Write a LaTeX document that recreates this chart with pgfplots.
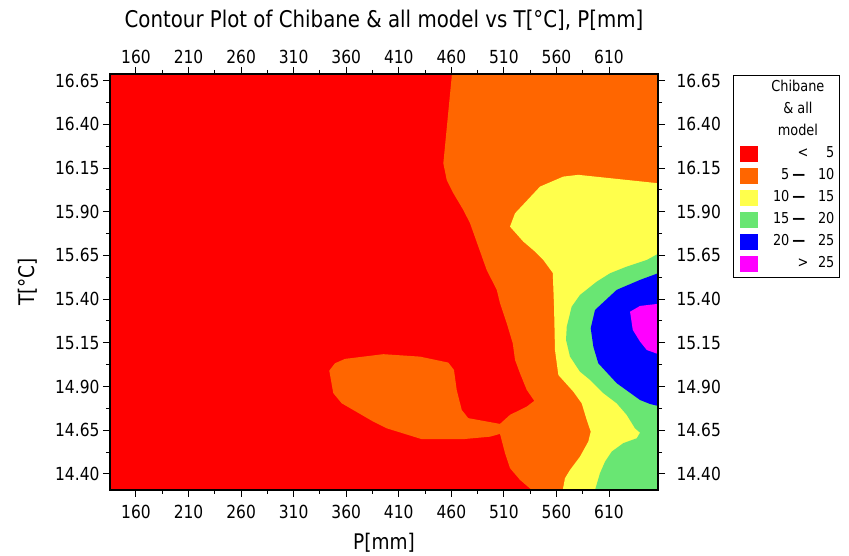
\documentclass[border=0pt]{standalone}
\usepackage{fontspec}
\setmainfont{DejaVu Sans}[FakeStretch=0.86]
\usepackage{pgfplots}
\pgfplotsset{compat=1.18}
\definecolor{cRed}{RGB}{255,0,0}
\definecolor{cOrange}{RGB}{255,102,0}
\definecolor{cYellow}{RGB}{255,255,76}
\definecolor{cGreen}{RGB}{105,230,115}
\definecolor{cBlue}{RGB}{0,0,255}
\definecolor{cMagenta}{RGB}{255,0,255}
\pgfplotsset{sq/.style={legend image code/.code={\fill[##1] (0pt,-8pt) rectangle (18pt,8pt);}, draw=none}}
\newcommand\LegR[2]{\makebox[29pt][r]{#1}\makebox[19pt][c]{\textbf{—}}\makebox[26pt][r]{#2}\hspace*{-5pt}}
\newcommand\LegS[2]{\makebox[29pt][r]{}\makebox[19pt][r]{#1}\makebox[26pt][r]{#2}\hspace*{-5pt}}
\newcommand\LegT[1]{\makebox[75pt][c]{#1}\hspace*{-5pt}}
\begin{document}
\begin{tikzpicture}
\useasboundingbox (-110pt,-66pt) rectangle (739pt,490pt);
\begin{axis}[
  at={(0pt,0pt)}, anchor=south west,
  scale only axis, width=548pt, height=416pt,
  xmin=135.3, xmax=656.6, ymin=14.308, ymax=16.688,
  axis on top,
  axis line style={line width=1.2pt},
  tick align=outside,
  xtick={160,210,260,310,360,410,460,510,560,610},
  ytick={14.40,14.65,14.90,15.15,15.40,15.65,15.90,16.15,16.40,16.65},
  minor x tick num=1, minor y tick num=1,
  major tick length=7pt, minor tick length=4pt,
  tick style={black, line width=1pt},
  tick label style={font=\fontsize{18}{21}\selectfont},
  xticklabel style={yshift=-5pt},
  /pgf/number format/assume math mode=true,
  yticklabel style={/pgf/number format/.cd, fixed, fixed zerofill, precision=2},
  xlabel={P[mm]}, ylabel={T[°C]},
  label style={font=\fontsize{21.5}{24}\selectfont},
  xlabel style={at={(axis description cs:0.5,-0.1274)}, anchor=center},
  ylabel style={at={(axis description cs:-0.1496,0.5)}, anchor=center, rotate=0},
  title={Contour Plot of Chibane \& all model vs T[°C], P[mm]},
  title style={at={(axis description cs:0.5,1.097)}, anchor=base, font=\fontsize{23}{26}\selectfont},
  legend style={at={(axis description cs:1.1369,0.9976)}, anchor=north west, draw=black, line width=0.8pt, fill=white,
    font=\fontsize{15}{18}\selectfont, row sep=6pt, inner xsep=7pt, inner ysep=5pt,
    nodes={inner xsep=2pt, inner ysep=0pt, text height=11pt, text depth=5pt}},
  legend cell align=left,
]
\addplot[fill=cRed, draw=none, forget plot] coordinates {(120,14.2) (670,14.2) (670,16.8) (120,16.8)};
\addplot[fill=cOrange, draw=none, forget plot] coordinates {
(460.6,16.80) (670,16.80) (670,14.20) (536.5,14.20) (536.5,14.308) (525.3,14.366) (515.8,14.433) (511.1,14.518) (506.3,14.629) (496.8,14.613) (471.4,14.599) (431.8,14.599) (398.5,14.661) (385.8,14.699) (355.7,14.804) (347.7,14.862) (343.9,14.991) (349.3,15.033) (358.8,15.058) (395.3,15.085) (430.2,15.071) (457.1,15.037) (462.5,14.995) (465.1,14.881) (469.9,14.766) (476.1,14.719) (506.3,14.686) (515.8,14.738) (531.7,14.785) (538.9,14.818) (531.7,14.881) (525.3,14.976) (520.6,15.052) (518.4,15.148) (512.7,15.262) (506.3,15.377) (503.2,15.453) (493.6,15.567) (477.8,15.834) (471.4,15.910) (461.9,16.006) (455.6,16.082) (452.4,16.177) (460.6,16.688)};
\addplot[fill=cYellow, draw=none, forget plot] coordinates {
(515.8,15.815) (520.6,15.891) (544.4,16.044) (566.5,16.101) (580.8,16.111) (656.6,16.063) (670,16.055) (670,14.20) (566,14.20) (566,14.308) (568.1,14.375) (572.9,14.423) (582.4,14.499) (590.3,14.585) (592.6,14.642) (588.8,14.709) (584,14.804) (576,14.871) (561.8,14.966) (558.6,15.109) (557.7,15.357) (556.5,15.55) (547.5,15.624) (539.6,15.672) (528.5,15.729)};
\addplot[fill=cGreen, draw=none, forget plot] coordinates {
(670,15.655) (656.6,15.659) (645.9,15.624) (626.8,15.586) (611,15.548) (598.3,15.500) (582.4,15.424) (574.5,15.357) (569.8,15.243) (569.1,15.167) (572.9,15.071) (582.4,14.985) (591.9,14.938) (604.6,14.862) (617.3,14.804) (626.8,14.738) (634.7,14.661) (639.5,14.636) (636.4,14.604) (623.6,14.576) (612.6,14.528) (606.2,14.470) (601.4,14.404) (596.7,14.308) (596.7,14.20) (670,14.20)};
\addplot[fill=cBlue, draw=none, forget plot] coordinates {
(670,15.548) (656.6,15.548) (639.5,15.510) (617.3,15.453) (596.7,15.338) (592.6,15.234) (595.1,15.128) (599.8,15.033) (617.3,14.919) (639.5,14.823) (649,14.800) (656.6,14.789) (670,14.789)};
\addplot[fill=cMagenta, draw=none, forget plot] coordinates {
(670,15.373) (656.6,15.373) (639.5,15.361) (630,15.328) (632.6,15.224) (639.5,15.157) (645.9,15.109) (656.6,15.086) (670,15.086)};
\addlegendimage{empty legend}\addlegendentry{\LegT{Chibane}}
\addlegendimage{empty legend}\addlegendentry{\LegT{\& all}}
\addlegendimage{empty legend}\addlegendentry{\LegT{model}}
\addlegendimage{sq, fill=cRed}\addlegendentry{\LegS{<}{5}}
\addlegendimage{sq, fill=cOrange}\addlegendentry{\LegR{5}{10}}
\addlegendimage{sq, fill=cYellow}\addlegendentry{\LegR{10}{15}}
\addlegendimage{sq, fill=cGreen}\addlegendentry{\LegR{15}{20}}
\addlegendimage{sq, fill=cBlue}\addlegendentry{\LegR{20}{25}}
\addlegendimage{sq, fill=cMagenta}\addlegendentry{\LegS{>}{25}}
\end{axis}
\begin{axis}[
  at={(0pt,0pt)}, anchor=south west,
  scale only axis, width=548pt, height=416pt,
  xmin=135.3, xmax=656.6, ymin=14.308, ymax=16.688,
  axis x line*=top, axis y line*=right,
  axis line style={draw=none},
  tick align=outside, major tick length=7pt,
  xtick={160,210,260,310,360,410,460,510,560,610},
  ytick={14.40,14.65,14.90,15.15,15.40,15.65,15.90,16.15,16.40,16.65},
  tick style={draw=none},
  tick label style={font=\fontsize{18}{21}\selectfont},
  yticklabel style={xshift=8pt},
  /pgf/number format/assume math mode=true,
  yticklabel style={/pgf/number format/.cd, fixed, fixed zerofill, precision=2},
]
\addplot[draw=none] coordinates {(400,15.5)};
\end{axis}
\end{tikzpicture}
\end{document}
